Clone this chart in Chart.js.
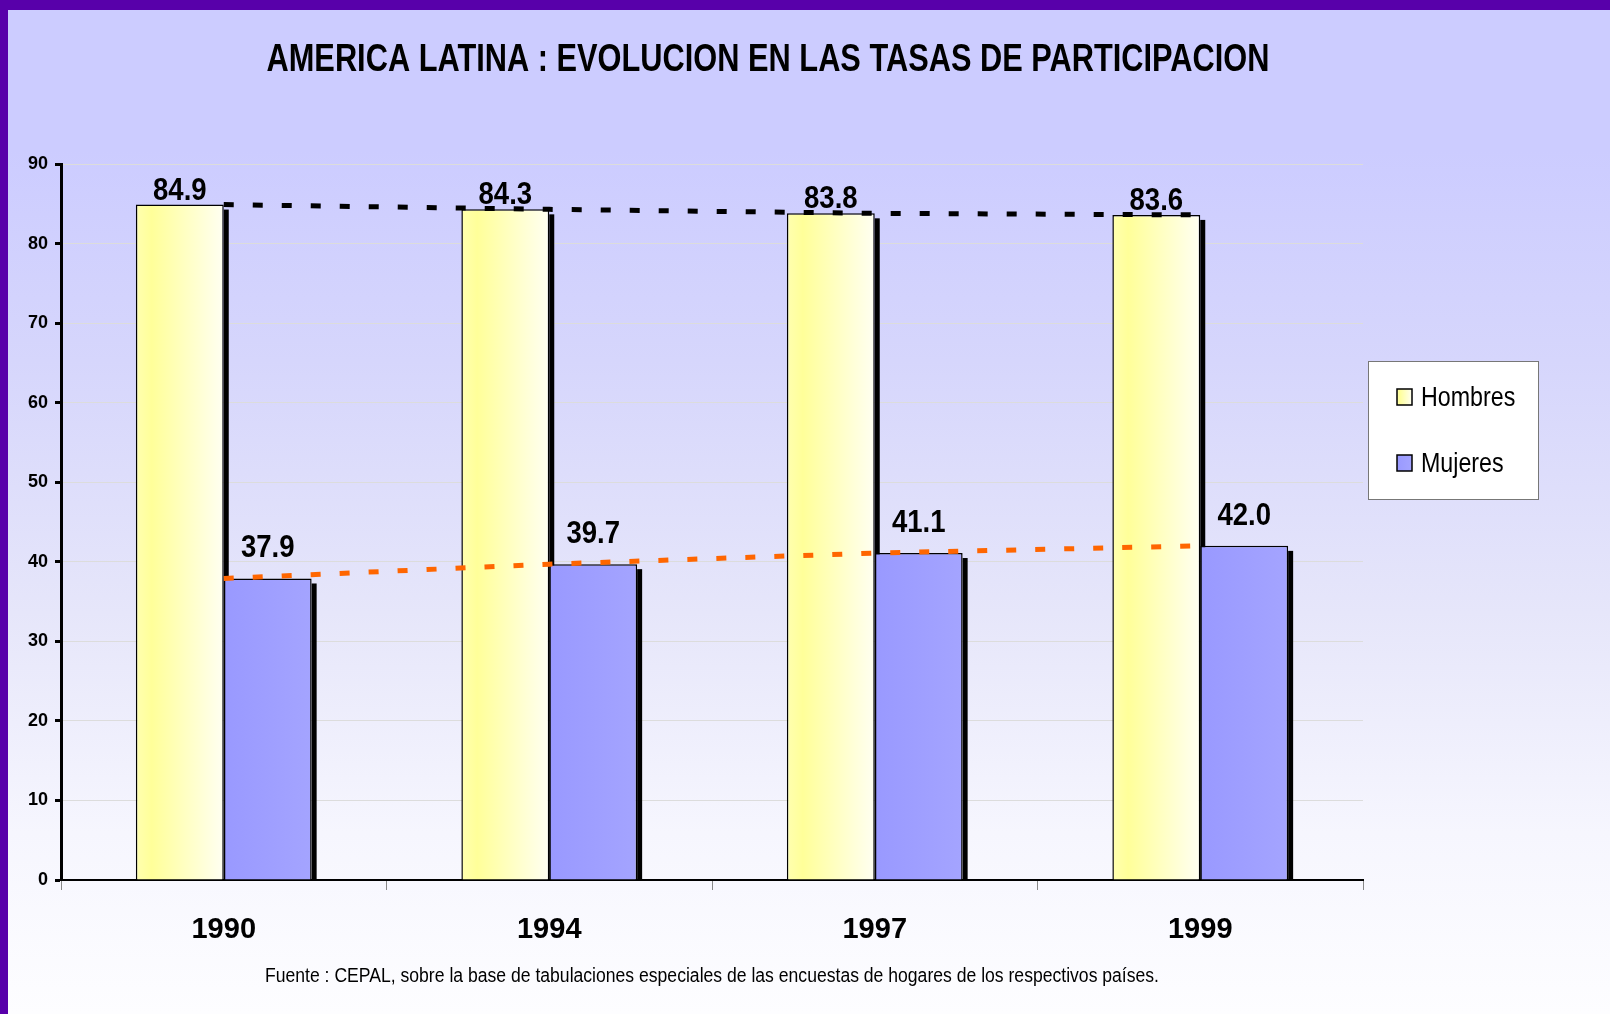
<!DOCTYPE html>
<html>
<head>
<meta charset="utf-8">
<script src="https://cdn.jsdelivr.net/npm/chart.js@4"></script>
<style>
  html, body { margin: 0; padding: 0; }
  #frame { position: absolute; left: 0; top: 0; width: 1610px; height: 1014px; background: #5800aa; overflow: hidden; }
  #panel { position: absolute; left: 8px; top: 10px; width: 1602px; height: 1004px;
    background: linear-gradient(to bottom, #ccccff 0%, #ccccff 14%, #d6d6fc 35%, #e6e6fa 60%, #f6f6fe 82%, #fdfdff 100%); }
  #myChart { position: absolute; left: 0; top: 0; }
</style>
</head>
<body>
<div id="frame"><div id="panel"></div>
<canvas id="myChart" width="1610" height="1014"></canvas>
</div>
<script>
const ctx = document.getElementById("myChart").getContext("2d");

const FONT = "'Liberation Sans', Arial, sans-serif";

const years = ["1990", "1994", "1997", "1999"];
const hombres = [84.9, 84.3, 83.8, 83.6];
const mujeres = [37.9, 39.7, 41.1, 42.0];
const yMax = 90;
const yStep = 10;

const title = "AMERICA LATINA : EVOLUCION EN LAS TASAS DE PARTICIPACION";
const fuente = "Fuente : CEPAL, sobre la base de tabulaciones especiales de las encuestas de hogares de los respectivos países.";

// bars take 54% of each category, two bars side by side
const groupPct = 0.54;

function barFill(stops, side) {
  return function (context) {
    const chart = context.chart;
    const xs = chart.scales.x;
    if (!chart.chartArea || !xs || context.dataIndex === undefined) return stops[1][1];
    const center = xs.getPixelForValue(context.dataIndex);
    const w = (xs.width / years.length) * groupPct / 2;
    const left = side < 0 ? center - w : center;
    const g = chart.ctx.createLinearGradient(left, 0, left + w, 0);
    stops.forEach(s => g.addColorStop(s[0], s[1]));
    return g;
  };
}

const yellowStops = [[0, "#ffffb0"], [0.18, "#ffff99"], [1, "#fffff2"]];
const blueStops = [[0, "#9999ff"], [1, "#a4a4ff"]];

// narrow text: Arial-like font squeezed horizontally
function narrowText(c, text, x, y, font, sx, align) {
  c.save();
  c.font = font;
  c.translate(x, y);
  c.scale(sx, 1);
  c.textAlign = align || "center";
  c.fillText(text, 0, 0);
  c.restore();
}

// black shadow on the right side of each bar
const barShadow = {
  id: "barShadow",
  beforeDatasetsDraw(chart) {
    const c = chart.ctx;
    const base = chart.scales.y.getPixelForValue(0);
    c.save();
    c.fillStyle = "#000";
    [0, 1].forEach(i => {
      chart.getDatasetMeta(i).data.forEach(el => {
        c.fillRect(el.x + el.width / 2, el.y + 5, 5, base - el.y - 5);
      });
    });
    c.restore();
  }
};

const valueLabels = {
  id: "valueLabels",
  afterDatasetsDraw(chart) {
    const c = chart.ctx;
    c.save();
    c.fillStyle = "#000";
    c.textBaseline = "alphabetic";
    const f = "bold 32px " + FONT;
    chart.getDatasetMeta(0).data.forEach((el, i) => {
      narrowText(c, hombres[i].toFixed(1), el.x, el.y - 5, f, 0.86);
    });
    chart.getDatasetMeta(1).data.forEach((el, i) => {
      narrowText(c, mujeres[i].toFixed(1), el.x, el.y - 21, f, 0.86);
    });
    c.restore();
  }
};

const texts = {
  id: "texts",
  afterDraw(chart) {
    const c = chart.ctx;
    const area = chart.chartArea;
    c.save();
    c.fillStyle = "#000";
    c.textBaseline = "middle";
    c.font = "bold 38px " + FONT;
    narrowText(c, title, 768, 61, c.font, 1003 / c.measureText(title).width);
    c.font = "20px " + FONT;
    narrowText(c, fuente, (area.left + area.right) / 2, 976, c.font, 894 / c.measureText(fuente).width);

    // legend box
    c.fillStyle = "#fff";
    c.fillRect(1368, 361, 170, 138);
    c.strokeStyle = "#777";
    c.lineWidth = 1;
    c.strokeRect(1368.5, 361.5, 170, 138);
    const items = [[chart.data.datasets[0].label, yellowStops, 397], [chart.data.datasets[1].label, blueStops, 463]];
    items.forEach(it => {
      const g = c.createLinearGradient(1397, 0, 1412, 0);
      it[1].forEach(s => g.addColorStop(s[0], s[1]));
      c.fillStyle = g;
      c.fillRect(1397, it[2] - 8, 15, 16);
      c.strokeStyle = "#000";
      c.lineWidth = 1.5;
      c.strokeRect(1397, it[2] - 8, 15, 16);
      c.fillStyle = "#000";
      narrowText(c, it[0], 1421, it[2] + 1, "28px " + FONT, 0.83, "left");
    });
    c.restore();
  }
};

const data = {
  labels: years,
  datasets: [
    {
      label: "Hombres",
      data: hombres,
      backgroundColor: barFill(yellowStops, -1),
      borderColor: "#000",
      borderWidth: 1.5,
      borderSkipped: "bottom",
      categoryPercentage: groupPct,
      barPercentage: 1,
      order: 1,
    },
    {
      label: "Mujeres",
      data: mujeres,
      backgroundColor: barFill(blueStops, 1),
      borderColor: "#000",
      borderWidth: 1.5,
      borderSkipped: "bottom",
      categoryPercentage: groupPct,
      barPercentage: 1,
      order: 1,
    },
    {
      type: "line",
      label: "tendencia hombres",
      data: hombres,
      borderColor: "#000",
      borderWidth: 5,
      borderDash: [10, 19],
      pointRadius: 0,
      fill: false,
      order: 0,
    },
    {
      type: "line",
      label: "tendencia mujeres",
      data: mujeres,
      borderColor: "#ff6600",
      borderWidth: 5,
      borderDash: [10, 19],
      pointRadius: 0,
      fill: false,
      order: 0,
    },
  ],
};

const config = {
  type: "bar",
  data: data,
  options: {
    responsive: false,
    devicePixelRatio: 1,
    animation: false,
    events: [],
    layout: { padding: { top: 164, left: 0, right: 247, bottom: 0 } },
    plugins: {
      legend: { display: false },
      tooltip: { enabled: false },
    },
    scales: {
      x: {
        afterFit: s => { s.height = 134; },
        grid: { drawOnChartArea: false, tickLength: 10, color: "#888", lineWidth: 1 },
        border: { color: "#000", width: 2 },
        ticks: { color: "#000", font: { family: FONT, size: 29, weight: "bold" }, padding: 23 },
      },
      y: {
        min: 0,
        max: yMax,
        afterFit: s => { s.width = 61; },
        grid: { color: "#dcdcdc", lineWidth: 1, tickColor: "#000", tickWidth: 3, tickLength: 6 },
        border: { color: "#000", width: 3 },
        ticks: { stepSize: yStep, color: "#000", font: { family: FONT, size: 18, weight: "bold" }, padding: 7 },
      },
    },
  },
  plugins: [barShadow, valueLabels, texts],
};

const myChart = new Chart(ctx, config);
</script>
</body>
</html>
